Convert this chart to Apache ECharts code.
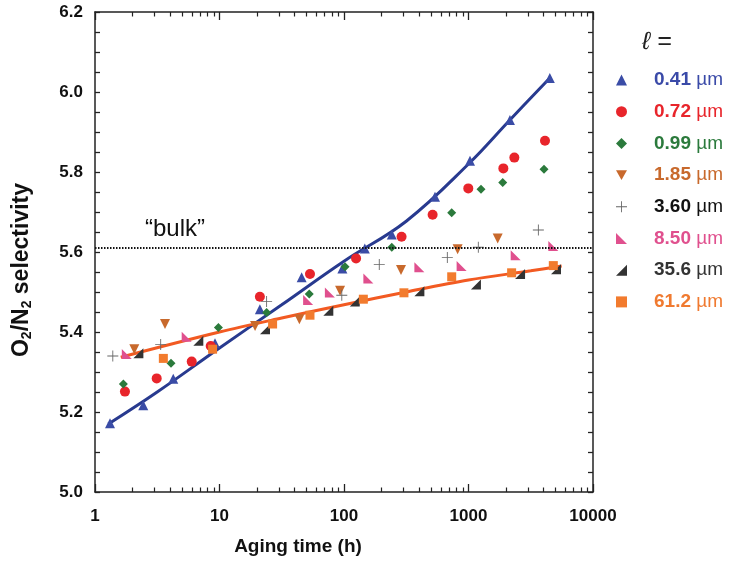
<!DOCTYPE html>
<html><head><meta charset="utf-8">
<script src="https://cdn.jsdelivr.net/npm/echarts@6/dist/echarts.min.js"></script>
<style>html,body{margin:0;padding:0;background:#fff}#c{width:731px;height:569px}</style>
</head><body><div id="c"></div>
<script>
// ---- data (aging time in h, O2/N2 selectivity) ----
const legendNames = ['0.41 µm','0.72 µm','0.99 µm','1.85 µm','3.60 µm','8.50 µm','35.6 µm','61.2 µm'];
const s041 = [[1.32,5.172],[2.44,5.217],[4.25,5.283],[9.2,5.372],[21.1,5.457],[45.7,5.537],[97,5.559],[147,5.609],[242,5.644],[538,5.738],[1028,5.828],[2153,5.93],[4500,6.035]];
const s072 = [[1.74,5.251],[3.13,5.284],[5.98,5.326],[8.5,5.365],[21.1,5.488],[53.3,5.545],[125,5.584],[290,5.638],[515,5.693],[996,5.759],[1905,5.809],[2335,5.836],[4115,5.878]];
const s099 = [[1.69,5.27],[4.08,5.322],[9.8,5.411],[23.9,5.449],[52.6,5.495],[102,5.563],[242,5.612],[733,5.698],[1260,5.757],[1883,5.774],[4040,5.807]];
const s185 = [[2.07,5.357],[3.65,5.42],[19.3,5.415],[43.8,5.432],[93,5.503],[287,5.555],[818,5.607],[1715,5.634]];
const s360 = [[1.39,5.34],[3.37,5.369],[23.9,5.476],[96,5.492],[192,5.569],[676,5.586],[1199,5.612],[3640,5.655]];
const s850 = [[1.8,5.345],[5.45,5.388],[51.5,5.48],[77,5.499],[157,5.534],[403,5.562],[881,5.565],[2393,5.592],[4800,5.615]];
const s356 = [[2.23,5.347],[6.76,5.378],[23.2,5.407],[74.8,5.453],[122,5.476],[403,5.502],[1148,5.519],[2594,5.545],[5044,5.557]];
const s612 = [[3.54,5.334],[8.8,5.357],[26.7,5.42],[53.3,5.442],[143,5.482],[303,5.498],[733,5.538],[2220,5.548],[4800,5.566]];
const blueFit = [[1.28,5.17],[3.16,5.25],[10,5.36],[31.6,5.468],[100,5.577],[316,5.677],[1000,5.82],[2150,5.93],[4500,6.035]];
const orangeFit = [[1.61,5.337],[10,5.40],[31.6,5.435],[100,5.468],[316,5.50],[1000,5.53],[3162,5.553],[5600,5.565]];
const bulkValue = 5.605;
const xRange = [1, 10000];
const yRange = [5.0, 6.2];

// ---- styles ----
const FONT = 'Liberation Sans, Arial, Helvetica, sans-serif';
const markerColors = ['#3a4ca6','#e8252b','#2b7a3c','#c8692c','#666666','#e0508e','#333333','#f27b2e'];
const textColors   = ['#3a4aa8','#e8252b','#2b7a3c','#c8692c','#111111','#e0508e','#333333','#f07a30'];
const symbols = [
  'triangle','circle','diamond',
  'path://M0,0 L10,0 L5,9 Z',
  'path://M4.6,0 H5.4 V4.6 H10 V5.4 H5.4 V10 H4.6 V5.4 H0 V4.6 H4.6 Z',
  'path://M0,0 L0,10 L10,10 Z',
  'path://M10,0 L10,10 L0,10 Z',
  'rect'
];
const sizes = [10,10,9,10,11,10,10,9];
const allData = [s041,s072,s099,s185,s360,s850,s356,s612];

const chart = echarts.init(document.getElementById('c'), null, {renderer:'canvas'});
const axisLine = {show:true, lineStyle:{color:'#222', width:1.5}};
const xCommon = {type:'log', logBase:10, min:xRange[0], max:xRange[1], gridIndex:0,
  axisLine, splitLine:{show:false},
  axisTick:{show:true, inside:true, length:8, lineStyle:{color:'#222', width:1.3}},
  minorTick:{show:true, splitNumber:9, length:4.5, lineStyle:{color:'#222', width:1.2}},
  minorSplitLine:{show:false}};
const yCommon = {type:'value', min:yRange[0], max:yRange[1], interval:0.2, gridIndex:0,
  axisLine, splitLine:{show:false},
  axisTick:{show:true, inside:true, length:5, lineStyle:{color:'#222', width:1.3}},
  minorTick:{show:true, splitNumber:4, length:5, lineStyle:{color:'#222', width:1.3}},
  minorSplitLine:{show:false}};

const series = [
  {type:'line', name:'fitBlue', data:blueFit, smooth:0.4, symbol:'none', z:1,
   lineStyle:{color:'#283a8f', width:3}, xAxisIndex:0, yAxisIndex:0,
   markLine:{silent:true, symbol:'none', label:{show:false},
     lineStyle:{type:[1.5,1.5], color:'#111', width:2},
     data:[{yAxis:bulkValue}]}},
  {type:'line', name:'fitOrange', data:orangeFit, smooth:0.35, symbol:'none', z:1,
   lineStyle:{color:'#f25a22', width:3}, xAxisIndex:0, yAxisIndex:0}
];
legendNames.forEach((n,i)=>{
  series.push({type:'scatter', name:n, data:allData[i], symbol:symbols[i], symbolSize:sizes[i],
    itemStyle:{color:markerColors[i], opacity:1}, z:3, xAxisIndex:0, yAxisIndex:0});
});

chart.setOption({
  animation:false,
  backgroundColor:'#fff',
  textStyle:{fontFamily:FONT},
  grid:{left:95, right:138, top:12, bottom:77, containLabel:false},
  xAxis:[
    Object.assign({}, xCommon, {position:'bottom',
      axisLabel:{show:true, margin:16, fontSize:17, fontWeight:'bold', color:'#111', fontFamily:FONT,
        formatter:v=>String(Math.round(v))}}),
    Object.assign({}, xCommon, {position:'top', axisLabel:{show:false}})
  ],
  yAxis:[
    Object.assign({}, yCommon, {position:'left',
      axisLabel:{show:true, margin:12, fontSize:17, fontWeight:'bold', color:'#111', fontFamily:FONT,
        formatter:v=>v.toFixed(1)}}),
    Object.assign({}, yCommon, {position:'right', axisLabel:{show:false}})
  ],
  legend:{
    orient:'vertical', left:611, top:65, itemGap:11.7, itemWidth:11, itemHeight:11,
    selectedMode:false,
    data:legendNames.map((n,i)=>({name:n, textStyle:{color:textColors[i],
      rich:{n:{color:textColors[i], fontSize:19, fontWeight:'bold', fontFamily:FONT, padding:[0,0,0,22]},
            u:{color:textColors[i], fontSize:19, fontWeight:'normal', fontFamily:FONT}}}})),
    formatter:name=>{const p=name.split(' '); return '{n|'+p[0]+'} {u|'+p[1]+'}';},
    textStyle:{fontSize:19, fontWeight:'bold', fontFamily:FONT, lineHeight:20}
  },
  graphic:[
    {type:'text', left:145, top:217, style:{text:'\u201Cbulk\u201D', font:'24px '+FONT, fill:'#111'}},
    {type:'text', left:642, top:30, style:{text:'\u2113 =', font:'italic 25px '+FONT, fill:'#222'}},
    {type:'text', x:298, y:547, style:{text:'Aging time (h)', font:'bold 19px '+FONT, fill:'#111',
      align:'center', verticalAlign:'middle'}},
    {type:'text', x:22, y:270, rotation:Math.PI/2,
      style:{text:'{a|O}{s|2}{a|/N}{s|2}{a| selectivity}', align:'center', verticalAlign:'middle',
        rich:{a:{font:'bold 23px '+FONT, fill:'#111'},
              s:{font:'bold 14px '+FONT, fill:'#111', padding:[11,0,0,0]}}}}
  ],
  series
});
</script></body></html>
